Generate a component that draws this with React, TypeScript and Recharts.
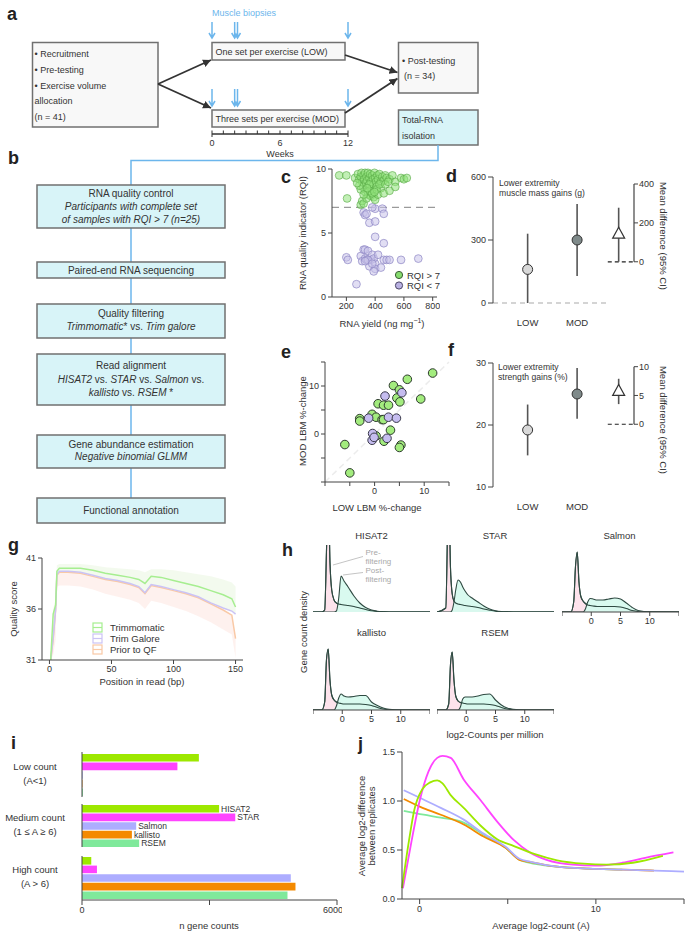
import React from "react";
import {
  Area,
  AreaChart,
  Bar,
  BarChart,
  ComposedChart,
  ErrorBar,
  LabelList,
  Line,
  LineChart,
  ReferenceLine,
  Scatter,
  ScatterChart,
  XAxis,
  YAxis,
} from "recharts";

// ---------- c: RNA yield vs RQI ----------
const rqiHigh: [number, number][] = [
  [150, 9.5], [200, 9.5], [205, 7.7], [260, 9.3], [280, 9.6], [290, 9.2], [300, 9.4], [305, 9.7],
  [310, 9.0], [315, 8.6], [320, 9.5], [325, 9.2], [330, 9.7], [335, 8.9], [340, 9.4], [345, 9.1],
  [350, 9.7], [355, 8.7], [360, 9.3], [365, 9.6], [370, 9.0], [375, 8.4], [380, 9.5], [385, 9.2],
  [390, 8.8], [395, 9.7], [400, 9.3], [405, 9.0], [410, 8.6], [415, 9.5], [420, 9.2], [430, 9.6],
  [440, 9.0], [450, 9.4], [460, 9.1], [470, 9.5], [480, 9.3], [500, 9.2], [520, 9.5], [540, 9.0],
  [580, 9.3], [600, 9.2], [330, 8.2], [350, 8.0], [370, 7.9], [390, 7.8], [400, 7.6], [420, 8.0],
  [440, 8.5], [460, 8.1], [500, 8.3], [540, 8.6], [300, 7.2], [310, 7.5], [320, 7.3], [340, 7.7],
  [360, 8.3], [380, 8.1], [410, 8.4], [430, 8.8], [300, 8.4], [290, 8.7], [470, 8.8], [490, 9.0],
  [360, 8.8], [320, 8.0], [345, 8.5], [395, 8.2], [275, 8.9], [620, 9.3],
];
const rqiLow: [number, number][] = [
  [320, 6.6], [330, 6.4], [340, 6.5], [360, 5.8], [400, 5.9], [400, 6.9], [450, 6.9], [460, 6.5],
  [380, 7.0], [400, 4.7], [460, 4.2], [200, 3.1], [210, 2.9], [300, 3.2], [320, 3.7], [330, 3.7],
  [350, 3.6], [310, 2.8], [330, 3.0], [340, 2.9], [360, 2.4], [370, 2.9], [380, 3.3], [390, 3.0],
  [400, 2.6], [400, 2.2], [390, 2.0], [420, 3.3], [440, 2.3], [460, 2.9], [480, 2.9], [500, 2.9],
  [580, 2.9], [700, 3.0], [270, 1.0], [350, 2.9], [380, 2.6], [330, 2.8],
];

// ---------- d / f: group means with 95% CI ----------
const groupNames = ["LOW", "MOD"];
const massGain = [160, 300];
const massLower = [0, 128];
const massUpper = [330, 472];
const massDiff = [142, 0, 278]; // mean, lower, upper
const strengthGain = [19.2, 25.0];
const strengthLower = [15.1, 21.0];
const strengthUpper = [23.3, 29.2];
const strengthDiff = [5.7, 3.5, 7.9];

// ---------- e: LOW vs MOD LBM %-change ----------
const lbmHigh: [number, number][] = [
  [11.7, 12.7], [6.6, 11.4], [3.8, 10.1], [5.0, 9.2], [9.3, 7.3], [4.5, 7.5], [5.1, 6.7], [0.7, 6.3],
  [1.8, 6.0], [2.8, 6.0], [-3.0, 3.2], [-3.0, 2.7], [-0.5, 4.1], [0.3, 3.5], [1.5, 3.0], [1.8, 3.0],
  [3.2, 0.8], [0.3, -0.4], [1.9, -1.5], [5.3, -2.3], [5.0, -2.8], [-6.0, -2.2], [-5.0, -8.1],
];
const lbmLow: [number, number][] = [
  [2.1, 7.9], [5.5, 8.6], [-1.2, 3.3], [2.8, 3.5], [4.4, 3.3], [-0.4, 0.1], [-0.5, -1.3], [-0.1, -0.7], [2.5, -0.9],
];

// ---------- g: quality score by read position ----------
const readPos = [1, 3, 5, 6, 8, 15, 25, 35, 45, 55, 65, 72, 77, 82, 90, 100, 110, 120, 130, 140, 147, 150];
const qTrimmomatic = [31, 35.5, 36.4, 39.7, 40.0, 40.0, 40.0, 39.8, 39.5, 39.3, 39.1, 38.9, 38.5, 39.2, 39.1, 38.8, 38.5, 38.2, 37.8, 37.4, 37.0, 36.2];
const qTrimGalore = [31, 33.2, 36.0, 39.4, 39.7, 39.7, 39.6, 39.3, 39.0, 38.8, 38.5, 38.2, 37.6, 38.4, 38.2, 37.9, 37.6, 37.2, 36.6, 36.1, 35.8, 35.5];
const qPrior = [31, 33.0, 36.0, 39.3, 39.6, 39.6, 39.5, 39.2, 38.9, 38.7, 38.4, 38.1, 37.5, 38.3, 38.1, 37.8, 37.5, 37.1, 36.5, 35.9, 35.4, 33.1];
const trimBandLo = [31, 33.2, 36.0, 39.4, 39.7, 39.7, 39.6, 39.3, 39.0, 38.8, 38.5, 38.2, 37.6, 38.4, 38.2, 37.9, 37.6, 37.2, 36.6, 36.1, 35.8, 35.5];
const trimBandHi = [31, 36.0, 37.0, 40.3, 40.4, 40.4, 40.4, 40.3, 40.1, 40.0, 39.9, 39.8, 39.6, 39.9, 39.9, 39.8, 39.6, 39.4, 39.2, 38.9, 38.6, 38.2];
const priorBandLo = [31, 31.5, 33.0, 38.2, 38.3, 38.3, 38.2, 37.9, 37.5, 37.2, 36.9, 36.6, 36.0, 36.8, 36.6, 36.2, 35.8, 35.3, 34.7, 34.0, 33.5, 31.2];

// ---------- h: gene count densities ----------
const cpmGrid = [-5, -3.5, -3, -2.7, -2.4, -2.1, -1.8, -1.4, -1, -0.6, -0.2, 0.3, 1, 2, 3, 4, 5, 6, 7, 8, 10, 15];
const hisat2Pre = [0, 0, 2, 60, 130, 50, 22, 12, 9, 8, 7.5, 7, 6.5, 5.5, 4, 2.5, 1.2, 0.5, 0.2, 0, 0, 0];
const hisat2Post = [0, 0, 0, 0, 0, 0, 0, 0, 1, 14, 36, 31, 25, 16, 9, 4.5, 2, 0.8, 0.3, 0, 0, 0];
const starPre = [0, 4, 130, 45, 18, 11, 9, 8, 7.5, 7, 6.5, 6, 5.5, 4.5, 3, 1.8, 0.8, 0.3, 0.1, 0, 0, 0];
const starPost = [0, 0, 0, 0, 2, 10, 22, 32, 30, 25, 21, 17, 14, 10, 6, 3, 1.2, 0.4, 0.1, 0, 0, 0];
const salmonPre = [0, 0, 10, 45, 60, 30, 16, 11, 8.5, 7, 6.5, 6, 5.5, 5.5, 5.5, 5.5, 5, 3.5, 1.5, 0.5, 0, 0];
const salmonPost = [0, 0, 0, 0, 0, 0, 0, 0, 3, 10, 13.5, 13, 12, 12, 13, 14, 13, 9, 4.5, 1.5, 0.1, 0];
const kallistoPre = [0, 0, 8, 50, 61, 30, 15, 10, 8, 7, 6.5, 6, 6, 6, 6, 5.5, 4.5, 2.5, 1, 0.3, 0, 0];
const kallistoPost = [0, 0, 0, 0, 0, 0, 0, 0, 4, 12, 16, 14, 13, 13.5, 14.5, 14.5, 8, 4.5, 2, 0.8, 0, 0];
const rsemPre = [0, 0, 6, 45, 58, 30, 14, 9, 7.5, 7, 6.5, 6, 6, 6, 6, 5.5, 4.5, 2.5, 1, 0.3, 0, 0];
const rsemPost = [0, 0, 0, 0, 0, 0, 0, 0, 3, 11, 13, 13, 13, 14, 15.5, 16, 10, 5, 2, 0.7, 0, 0];

// ---------- i: gene counts per abundance class ----------
const pipelines = ["HISAT2", "STAR", "Salmon", "kallisto", "RSEM"];
const groupTitle = ["Low count", "Medium count", "High count"];
const groupRange = ["(A<1)", "(1 \u2264 A \u2265 6)", "(A > 6)"];
const lowCounts = [2750, 2245, 15, 10, 20];
const mediumCounts = [3226, 3606, 1275, 1174, 1345];
const highCounts = [218, 352, 4913, 5023, 4835];

// ---------- j: mean-difference trend ----------
const jHisat2: [number, number][] = [
  [-1, 0.11], [-0.6, 0.6], [-0.3, 0.91], [0.15, 1.12], [0.6, 1.19], [1.0, 1.21], [1.3, 1.18], [1.76, 1.06],
  [2.5, 0.93], [3.45, 0.75], [4.4, 0.61], [5.35, 0.54], [6.5, 0.46], [7.8, 0.395], [9.3, 0.36], [10.6, 0.35],
  [12.1, 0.37], [13.8, 0.44],
];
const jStar: [number, number][] = [
  [-0.95, 0.11], [-0.5, 0.55], [0, 1.0], [0.5, 1.3], [1.0, 1.44], [1.3, 1.46], [1.76, 1.44], [2.5, 1.22],
  [3.45, 1.01], [4.4, 0.79], [5.35, 0.6], [6.3, 0.47], [7.2, 0.4], [8.7, 0.35], [10, 0.34], [11.5, 0.37],
  [12.8, 0.42], [14.4, 0.475],
];
const jSalmon: [number, number][] = [
  [-0.9, 1.11], [0.04, 1.03], [1.2, 0.93], [2.5, 0.81], [3.6, 0.67], [4.9, 0.53], [5.66, 0.41], [6.3, 0.38],
  [7.8, 0.33], [9.6, 0.31], [11.5, 0.3], [13.3, 0.29], [15, 0.28],
];
const jKallisto: [number, number][] = [
  [-0.9, 1.02], [0.04, 0.94], [1.2, 0.86], [2.5, 0.76], [3.6, 0.64], [4.9, 0.52], [5.66, 0.4], [6.2, 0.38],
  [7.8, 0.33], [9.6, 0.31], [11.5, 0.3], [13.3, 0.29],
];
const jRsem: [number, number][] = [
  [-0.9, 0.9], [0.23, 0.86], [1.2, 0.83], [2.5, 0.78], [3.6, 0.66], [4.9, 0.52], [5.66, 0.4], [6.2, 0.37],
  [7.8, 0.33], [9.6, 0.31], [11.5, 0.3],
];

// ---------- styles ----------
const FONT = '"Liberation Sans", Arial, Helvetica, sans-serif';
const INK = "#333";
const AXIS = "#444";
const BLUE = "#6cb6ec";
const BOX = "#707070";
const CYAN = "#d8f4f8";
const PIPE_COLORS: Record<string, string> = {
  HISAT2: "#9de800",
  STAR: "#ff44ff",
  Salmon: "#adadff",
  kallisto: "#f48a00",
  RSEM: "#7fe99b",
};
const tick9 = { fontSize: 9, fill: INK };

const toXY = (pts: [number, number][]) => pts.map(([x, y]) => ({ x, y }));

const dot = (fill: string, stroke: string, r: number, fillOpacity = 1, strokeOpacity = 1) => (p: any) => (
  <circle cx={p.cx} cy={p.cy} r={r} fill={fill} fillOpacity={fillOpacity} stroke={stroke} strokeOpacity={strokeOpacity} strokeWidth={1} />
);

const triangle = (p: any) => (
  <polygon
    points={`${p.cx},${p.cy - 7} ${p.cx - 6},${p.cy + 4} ${p.cx + 6},${p.cy + 4}`}
    fill="#fff"
    stroke={INK}
    strokeWidth={1.2}
  />
);

function Box({ x, y, w, h, fill }: { x: number; y: number; w: number; h: number; fill: string }) {
  return <rect x={x} y={y} width={w} height={h} fill={fill} stroke={BOX} strokeWidth={1.5} />;
}

function Diagram() {
  const weeks = [0, 1, 2, 3, 4, 5, 6, 7, 8, 9, 10, 11, 12];
  const biopsyWeeks = [0, 2, 2.25, 12];
  const wx = (w: number) => 212 + w * (136 / 12);
  const arrow = (x: number, y0: number, y1: number, k: string) => (
    <path key={k} d={`M${x},${y0} L${x},${y1} M${x - 3},${y1 - 5} L${x},${y1} L${x + 3},${y1 - 5}`} stroke={BLUE} strokeWidth={1.5} fill="none" />
  );
  const t = { fontSize: 9, fill: INK };
  const b = { fontSize: 10, fill: INK, textAnchor: "middle" as const };
  return (
    <svg width={685} height={932} style={{ position: "absolute", left: 0, top: 0 }}>
      <defs>
        <marker id="ah" viewBox="0 0 10 10" refX="10" refY="5" markerWidth="8" markerHeight="8" markerUnits="userSpaceOnUse" orient="auto">
          <path d="M0,0 L10,5 L0,10 z" fill="#333" />
        </marker>
      </defs>
      {/* panel a */}
      <text x={212} y={16} fontSize={9} fill={BLUE}>Muscle biopsies</text>
      {biopsyWeeks.map((w, i) => arrow(wx(w), 22, 38, "t" + i))}
      {biopsyWeeks.map((w, i) => arrow(wx(w), 89, 106, "b" + i))}
      <Box x={32.5} y={42.5} w={125.5} h={84.5} fill="#f8f8f8" />
      <text x={34.5} y={57} {...t}>• Recruitment</text>
      <text x={34.5} y={73} {...t}>• Pre-testing</text>
      <text x={34.5} y={88.5} {...t}>• Exercise volume</text>
      <text x={34.5} y={104} {...t}>allocation</text>
      <text x={34.5} y={119.5} {...t}>(n = 41)</text>
      <Box x={212} y={42.5} w={133} h={17.5} fill="#f8f8f8" />
      <text x={215.5} y={55} {...t}>One set per exercise (LOW)</text>
      <Box x={212} y={110} w={133} h={17} fill="#f8f8f8" />
      <text x={215.5} y={122} {...t}>Three sets per exercise (MOD)</text>
      <Box x={398.5} y={42.5} w={79.5} h={50.5} fill="#f8f8f8" />
      <text x={402} y={64} {...t}>• Post-testing</text>
      <text x={404} y={79} {...t}>(n = 34)</text>
      <Box x={398.5} y={110} w={79.5} h={35} fill={CYAN} />
      <text x={402} y={122.5} {...t}>Total-RNA</text>
      <text x={402} y={138.5} {...t}>isolation</text>
      <line x1={158} y1={84} x2={211} y2={60} stroke="#333" strokeWidth={1.8} markerEnd="url(#ah)" />
      <line x1={158} y1={84} x2={211} y2={108} stroke="#333" strokeWidth={1.8} markerEnd="url(#ah)" />
      <line x1={345} y1={55} x2={397.5} y2={72.5} stroke="#333" strokeWidth={1.8} markerEnd="url(#ah)" />
      <line x1={345} y1={113} x2={397.5} y2={78.5} stroke="#333" strokeWidth={1.8} markerEnd="url(#ah)" />
      <line x1={212} y1={134} x2={348} y2={134} stroke="#333" strokeWidth={1.5} />
      {weeks.map((w) => (
        <line key={w} x1={wx(w)} y1={w === 0 || w === 12 ? 137 : 134} x2={wx(w)} y2={130.5} stroke="#333" strokeWidth={1} />
      ))}
      <text x={wx(0)} y={146} {...t} textAnchor="middle">0</text>
      <text x={wx(6)} y={146} {...t} textAnchor="middle">6</text>
      <text x={wx(12)} y={146} {...t} textAnchor="middle">12</text>
      <text x={wx(6)} y={156.5} {...t} textAnchor="middle">Weeks</text>

      {/* panel b */}
      <polyline points="438,145 438,160.5 131,160.5 131,185" fill="none" stroke={BLUE} strokeWidth={1.5} />
      <line x1={131} y1={228} x2={131} y2={262} stroke={BLUE} strokeWidth={1.5} />
      <line x1={131} y1={278} x2={131} y2={304} stroke={BLUE} strokeWidth={1.5} />
      <line x1={131} y1={338} x2={131} y2={354} stroke={BLUE} strokeWidth={1.5} />
      <line x1={131} y1={405} x2={131} y2={435} stroke={BLUE} strokeWidth={1.5} />
      <line x1={131} y1={468} x2={131} y2={498} stroke={BLUE} strokeWidth={1.5} />
      <Box x={37} y={185} w={188} h={43} fill={CYAN} />
      <text x={131} y={196.5} {...b}>RNA quality control</text>
      <text x={131} y={210} {...b} fontStyle="italic">Participants with complete set</text>
      <text x={131} y={222.5} {...b} fontStyle="italic">of samples with RQI &gt; 7 (n=25)</text>
      <Box x={37} y={262} w={188} h={16} fill={CYAN} />
      <text x={131} y={273.5} {...b}>Paired-end RNA sequencing</text>
      <Box x={37} y={304} w={188} h={34} fill={CYAN} />
      <text x={131} y={316.5} {...b}>Quality filtering</text>
      <text x={131} y={330} {...b}>
        <tspan fontStyle="italic">Trimmomatic</tspan>* vs. <tspan fontStyle="italic">Trim galore</tspan>
      </text>
      <Box x={37} y={354} w={188} h={51} fill={CYAN} />
      <text x={131} y={369} {...b}>Read alignment</text>
      <text x={131} y={382.5} {...b}>
        <tspan fontStyle="italic">HISAT2</tspan> vs. <tspan fontStyle="italic">STAR</tspan> vs. <tspan fontStyle="italic">Salmon</tspan> vs.
      </text>
      <text x={131} y={395.5} {...b}>
        <tspan fontStyle="italic">kallisto</tspan> vs. <tspan fontStyle="italic">RSEM</tspan> *
      </text>
      <Box x={37} y={435} w={188} h={33} fill={CYAN} />
      <text x={131} y={447.5} {...b}>Gene abundance estimation</text>
      <text x={131} y={460} {...b} fontStyle="italic">Negative binomial GLMM</text>
      <Box x={37} y={498} w={188} h={25} fill={CYAN} />
      <text x={131} y={513.5} {...b}>Functional annotation</text>
    </svg>
  );
}

function Overlay() {
  const L = { fontSize: 18, fontWeight: 700, fill: "#222" };
  const a = { fontSize: 9.5, fill: INK };
  return (
    <svg width={685} height={932} style={{ position: "absolute", left: 0, top: 0, pointerEvents: "none" }}>
      <text x={7} y={20} {...L}>a</text>
      <text x={8} y={164} {...L}>b</text>
      <text x={281} y={183} {...L}>c</text>
      <text x={446} y={182} {...L}>d</text>
      <text x={281} y={358} {...L}>e</text>
      <text x={448} y={356} {...L}>f</text>
      <text x={8} y={551} {...L}>g</text>
      <text x={282} y={556} {...L}>h</text>
      <text x={11} y={749} {...L}>i</text>
      <text x={358} y={750} {...L}>j</text>

      {/* c */}
      <text x={306} y={233} {...a} textAnchor="middle" transform="rotate(-90 306 233)">RNA quality indicator (RQI)</text>
      <text x={382} y={327} {...a} textAnchor="middle">
        RNA yield  (ng mg<tspan dy={-4} fontSize={7}>−1</tspan><tspan dy={4}>)</tspan>
      </text>
      <circle cx={399} cy={275} r={3.6} fill="#86dc6e" stroke="#3a5a34" strokeWidth={1} />
      <circle cx={399} cy={285.5} r={3.6} fill="#b9b1e2" stroke="#4a4466" strokeWidth={1} />
      <text x={407} y={278.5} {...a}>RQI &gt; 7</text>
      <text x={407} y={289} {...a}>RQI &lt; 7</text>

      {/* d */}
      <text x={499} y={186} fontSize={8.6} fill={INK}>Lower extremity</text>
      <text x={499} y={196} fontSize={8.6} fill={INK}>muscle mass gains (g)</text>
      <text x={660} y={236} {...a} textAnchor="middle" transform="rotate(90 660 236)">Mean difference (95% CI)</text>

      {/* e */}
      <text x={306} y={421} {...a} textAnchor="middle" transform="rotate(-90 306 421)">MOD LBM %-change</text>
      <text x={377} y={511} {...a} textAnchor="middle">LOW LBM %-change</text>

      {/* f */}
      <text x={498} y={370} fontSize={8.6} fill={INK}>Lower extremity</text>
      <text x={498} y={380} fontSize={8.6} fill={INK}>strength gains (%)</text>
      <text x={660} y={420} {...a} textAnchor="middle" transform="rotate(90 660 420)">Mean difference (95% CI)</text>

      {/* g */}
      <text x={17} y={609} {...a} textAnchor="middle" transform="rotate(-90 17 609)">Quality score</text>
      <text x={142} y={685} {...a} textAnchor="middle">Position in read (bp)</text>

      {/* h */}
      <text x={307} y={632} {...a} textAnchor="middle" transform="rotate(-90 307 632)">Gene count density</text>
      <text x={495} y={738} {...a} textAnchor="middle">log2-Counts per million</text>
      <text x={371.5} y={539} {...a} textAnchor="middle">HISAT2</text>
      <text x={495} y={539} {...a} textAnchor="middle">STAR</text>
      <text x={619.5} y={539} {...a} textAnchor="middle">Salmon</text>
      <text x={371.5} y={636} {...a} textAnchor="middle">kallisto</text>
      <text x={495} y={636} {...a} textAnchor="middle">RSEM</text>
      <g fill="#a9a9a9" fontSize={8}>
        <text x={365.5} y={554.5}>Pre-</text>
        <text x={365.5} y={563.5}>filtering</text>
        <text x={365.5} y={572.5}>Post-</text>
        <text x={365.5} y={581.5}>filtering</text>
      </g>
      <line x1={363} y1={556.5} x2={333} y2={565} stroke="#b5b5b5" strokeWidth={0.8} />
      <line x1={363} y1={572.5} x2={343} y2={575} stroke="#b5b5b5" strokeWidth={0.8} />

      {/* i */}
      <text x={209} y={929} {...a} textAnchor="middle">n gene counts</text>

      {/* j */}
      <text x={365} y={826} {...a} textAnchor="middle" transform="rotate(-90 365 826)">Average log2-difference</text>
      <text x={375} y={826} {...a} textAnchor="middle" transform="rotate(-90 375 826)">between replicates</text>
      <text x={541} y={929} {...a} textAnchor="middle">Average log2-count (A)</text>
    </svg>
  );
}

function PanelC() {
  return (
    <div style={{ position: "absolute", left: 292, top: 160 }}>
      <ScatterChart width={148} height={175} margin={{ top: 9, right: 3, bottom: 0, left: 0 }}>
        <XAxis type="number" dataKey="x" domain={[100, 830]} ticks={[200, 400, 600, 800]} height={38} tick={tick9} tickSize={4} stroke={AXIS} />
        <YAxis type="number" dataKey="y" domain={[0, 10]} ticks={[0, 5, 10]} width={40} tick={tick9} tickSize={4} stroke={AXIS} />
        <ReferenceLine y={7} stroke="#9a9a9a" strokeDasharray="7 5" strokeWidth={1.2} />
        <Scatter data={toXY(rqiLow)} shape={dot("#c9c2ea", "#8f87c4", 3.9, 0.55, 0.7)} isAnimationActive={false} />
        <Scatter data={toXY(rqiHigh)} shape={dot("#8fe27a", "#56a844", 3.9, 0.55, 0.6)} isAnimationActive={false} />
      </ScatterChart>
    </div>
  );
}

function GroupPanel({
  top, plotH, domain, ticks, means, lower, upper, diff, diffDomain, diffTicks, zeroLine,
}: {
  top: number; plotH: number; domain: [number, number]; ticks: number[]; means: number[]; lower: number[]; upper: number[];
  diff: number[]; diffDomain: [number, number]; diffTicks: number[]; zeroLine: boolean;
}) {
  const rows = groupNames.map((_, i) => ({ x: i + 1, y: means[i], err: [means[i] - lower[i], upper[i] - means[i]] }));
  const diffRow = [{ x: 2.84, y: diff[0], err: [diff[0] - diff[1], diff[2] - diff[0]] }];
  const fills = ["#d8d8d8", "#7f8a8a"];
  return (
    <div style={{ position: "absolute", left: 453, top }}>
      <ComposedChart width={221} height={17 + plotH + 25} margin={{ top: 17, right: 0, bottom: 0, left: 0 }}>
        <XAxis type="number" dataKey="x" domain={[0.3, 3.15]} ticks={[1, 2]} tickFormatter={(v) => groupNames[v - 1]} axisLine={false} tickLine={false} tick={{ fontSize: 9.5, fill: INK }} tickMargin={10} height={25} />
        <YAxis yAxisId="main" type="number" dataKey="y" domain={domain} ticks={ticks} width={40} tick={tick9} tickSize={5} stroke={AXIS} />
        <YAxis yAxisId="diff" orientation="right" type="number" dataKey="y" domain={diffDomain} ticks={diffTicks} width={40} axisLine={false} tick={tick9} tickSize={4} tickMargin={1} stroke={AXIS} />
        {zeroLine && (
          <ReferenceLine yAxisId="main" segment={[{ x: 0.3, y: 0 }, { x: 2.62, y: 0 }]} stroke="#aaa" strokeDasharray="5 4" strokeWidth={1.2} />
        )}
        <ReferenceLine yAxisId="diff" segment={[{ x: 3.15, y: 0 }, { x: 3.15, y: diffTicks[2] }]} stroke={AXIS} strokeWidth={1.2} />
        <ReferenceLine yAxisId="diff" segment={[{ x: 2.62, y: 0 }, { x: 3.15, y: 0 }]} stroke="#222" strokeDasharray="4 3" strokeWidth={1.2} />
        {rows.map((r, i) => (
          <Scatter key={i} yAxisId="main" data={[r]} shape={dot(fills[i], INK, 5, 1)} isAnimationActive={false}>
            <ErrorBar dataKey="err" direction="y" width={0} stroke="#555" strokeWidth={1.6} />
          </Scatter>
        ))}
        <Scatter yAxisId="diff" data={diffRow} shape={triangle} isAnimationActive={false}>
          <ErrorBar dataKey="err" direction="y" width={0} stroke="#555" strokeWidth={1.6} />
        </Scatter>
      </ComposedChart>
    </div>
  );
}

function PanelE() {
  const fmt = (v: number) => (v === 0 || v === 10 ? String(v) : "");
  return (
    <div style={{ position: "absolute", left: 285, top: 352 }}>
      <ScatterChart width={166} height={158} margin={{ top: 10, right: 2, bottom: 0, left: 0 }}>
        <XAxis type="number" dataKey="x" domain={[-10, 15]} ticks={[-10, -5, 0, 5, 10, 15]} tickFormatter={fmt} height={28} tick={tick9} tickSize={4} stroke={AXIS} />
        <YAxis type="number" dataKey="y" domain={[-10, 15]} ticks={[-10, -5, 0, 5, 10, 15]} tickFormatter={fmt} width={40} tick={tick9} tickSize={4} stroke={AXIS} />
        <ReferenceLine segment={[{ x: -10, y: -10 }, { x: 15, y: 15 }]} stroke="#ececec" strokeDasharray="6 4" strokeWidth={1.5} />
        <Scatter data={toXY(lbmHigh)} shape={dot("#a3ec7e", "#2e3b2e", 4.3)} isAnimationActive={false} />
        <Scatter data={toXY(lbmLow)} shape={dot("#c5bcef", "#3a3a4a", 4.3)} isAnimationActive={false} />
      </ScatterChart>
    </div>
  );
}

function PanelG() {
  const data = readPos.map((x, i) => ({
    x,
    trim: qTrimmomatic[i],
    galore: qTrimGalore[i],
    prior: qPrior[i],
    trimBand: [trimBandLo[i], trimBandHi[i]],
    priorBand: [priorBandLo[i], qPrior[i]],
  }));
  const legend = [
    { name: "Trimmomatic", color: "#a6ee90" },
    { name: "Trim Galore", color: "#cbc3f5" },
    { name: "Prior to QF", color: "#f9c9a6" },
  ];
  return (
    <div style={{ position: "absolute", left: 0, top: 548 }}>
      <ComposedChart data={data} width={248} height={134} margin={{ top: 10, right: 5, bottom: 0, left: 0 }}>
        <XAxis type="number" dataKey="x" domain={[-6, 156]} ticks={[0, 50, 100, 150]} height={22} tick={tick9} tickSize={4} stroke={AXIS} />
        <YAxis type="number" domain={[31, 41]} ticks={[31, 36, 41]} width={42} tick={tick9} tickSize={4} stroke={AXIS} />
        <Area dataKey="priorBand" fill="#fde6e0" fillOpacity={0.55} stroke="none" isAnimationActive={false} />
        <Area dataKey="trimBand" fill="#eaf6e0" fillOpacity={0.55} stroke="none" isAnimationActive={false} />
        <Line dataKey="prior" stroke="#f9c9a6" strokeWidth={1.5} dot={false} isAnimationActive={false} />
        <Line dataKey="galore" stroke="#cbc3f5" strokeWidth={1.5} dot={false} isAnimationActive={false} />
        <Line dataKey="trim" stroke="#a6ee90" strokeWidth={1.5} dot={false} isAnimationActive={false} />
      </ComposedChart>
      <svg width={100} height={40} style={{ position: "absolute", left: 90, top: 73 }}>
        {legend.map((l, i) => (
          <g key={l.name}>
            <rect x={3} y={2 + i * 11} width={9} height={9} fill="#fff" stroke={l.color} strokeWidth={1.2} />
            <line x1={3} x2={12} y1={6.5 + i * 11} y2={6.5 + i * 11} stroke={l.color} strokeWidth={1.2} />
            <text x={20} y={10 + i * 11} fontSize={9.5} fill={INK}>{l.name}</text>
          </g>
        ))}
      </svg>
    </div>
  );
}

function Density({ left, top, pre, post, axis }: { left: number; top: number; pre: number[]; post: number[]; axis: boolean }) {
  const data = cpmGrid.map((x, i) => ({ x, pre: pre[i], post: post[i] }));
  return (
    <div style={{ position: "absolute", left, top }}>
      <AreaChart data={data} width={117} height={67 + (axis ? 18 : 0)} margin={{ top: 0, right: 0, bottom: 0, left: 0 }}>
        <XAxis type="number" dataKey="x" domain={[-5, 15]} ticks={[-5, 0, 5, 10, 15]} tickFormatter={(v) => (v === 0 || v === 5 || v === 10 ? String(v) : "")} hide={!axis} height={18} tick={tick9} tickSize={4} stroke={AXIS} />
        <YAxis type="number" domain={[0, 67]} allowDataOverflow hide />
        <Area type="monotone" dataKey="pre" fill="#fde3ec" fillOpacity={1} stroke="#2f4a42" strokeWidth={1.1} isAnimationActive={false} />
        <Area type="monotone" dataKey="post" fill="#d6faee" fillOpacity={0.92} stroke="#2f4a42" strokeWidth={1.1} isAnimationActive={false} />
        <Area type="monotone" dataKey="pre" fill="none" stroke="#2f4a42" strokeWidth={1.1} isAnimationActive={false} />
      </AreaChart>
    </div>
  );
}

function CountGroup({ top, plotH, values, index, axis }: { top: number; plotH: number; values: number[]; index: number; axis: boolean }) {
  const row: Record<string, any> = { group: groupTitle[index] };
  pipelines.forEach((p, i) => (row[p] = values[i]));
  const groupTick = (p: any) => (
    <g>
      <text x={35} y={p.y - 5} textAnchor="middle" fontSize={9.5} fill={INK}>{groupTitle[index]}</text>
      <text x={35} y={p.y + 9} textAnchor="middle" fontSize={9.5} fill={INK}>{groupRange[index]}</text>
    </g>
  );
  return (
    <div style={{ position: "absolute", left: 0, top }}>
      <BarChart layout="vertical" data={[row]} width={342} height={plotH + (axis ? 22 : 0)} margin={{ top: 0, right: 5, bottom: 0, left: 7 }} barCategoryGap={0} barGap={1}>
        <XAxis type="number" domain={[0, 6000]} ticks={[0, 3000, 6000]} tickFormatter={(v) => (v === 3000 ? "" : String(v))} hide={!axis} height={22} tick={tick9} tickSize={5} stroke={AXIS} />
        <YAxis type="category" dataKey="group" width={75} tick={groupTick} tickLine={false} stroke={AXIS} />
        {pipelines.map((p) => (
          <Bar key={p} dataKey={p} fill={PIPE_COLORS[p]} barSize={7.6} isAnimationActive={false}>
            {index === 1 && <LabelList dataKey={() => p} position="right" offset={2} style={{ fontSize: 8.5, fill: INK }} />}
          </Bar>
        ))}
      </BarChart>
    </div>
  );
}

function PanelJ() {
  const series: { name: string; pts: [number, number][] }[] = [
    { name: "RSEM", pts: jRsem },
    { name: "kallisto", pts: jKallisto },
    { name: "Salmon", pts: jSalmon },
    { name: "STAR", pts: jStar },
    { name: "HISAT2", pts: jHisat2 },
  ];
  return (
    <div style={{ position: "absolute", left: 356, top: 742 }}>
      <LineChart width={329} height={179} margin={{ top: 10, right: 1, bottom: 0, left: 0 }}>
        <XAxis type="number" dataKey="x" domain={[-1, 15]} ticks={[0, 5, 10, 15]} tickFormatter={(v) => (v === 0 || v === 10 ? String(v) : "")} height={22} tick={tick9} tickSize={5} stroke={AXIS} allowDuplicatedCategory={false} />
        <YAxis type="number" domain={[0, 1.5]} ticks={[0, 0.5, 1, 1.5]} tickFormatter={(v) => v.toFixed(1)} width={46} tick={tick9} tickSize={5} stroke={AXIS} />
        {series.map((s) => (
          <Line key={s.name} data={toXY(s.pts)} dataKey="y" type="monotone" stroke={PIPE_COLORS[s.name]} strokeWidth={1.8} dot={false} isAnimationActive={false} />
        ))}
      </LineChart>
    </div>
  );
}

export default function App() {
  return (
    <div style={{ position: "absolute", left: 0, top: 0, width: 685, height: 932, overflow: "hidden", background: "#fff", fontFamily: FONT }}>
      <Diagram />
      <PanelC />
      <GroupPanel top={160} plotH={126} domain={[0, 600]} ticks={[0, 300, 600]} means={massGain} lower={massLower} upper={massUpper}
        diff={massDiff} diffDomain={[-212, 436]} diffTicks={[0, 200, 400]} zeroLine />
      <PanelE />
      <GroupPanel top={346} plotH={124} domain={[10, 30]} ticks={[10, 20, 30]} means={strengthGain} lower={strengthLower} upper={strengthUpper}
        diff={strengthDiff} diffDomain={[-10.9, 10.64]} diffTicks={[0, 5, 10]} zeroLine={false} />
      <PanelG />
      <Density left={313} top={545} pre={hisat2Pre} post={hisat2Post} axis={false} />
      <Density left={437} top={545} pre={starPre} post={starPost} axis={false} />
      <Density left={562} top={545} pre={salmonPre} post={salmonPost} axis />
      <Density left={313} top={643} pre={kallistoPre} post={kallistoPost} axis />
      <Density left={437} top={643} pre={rsemPre} post={rsemPost} axis />
      <CountGroup top={752} plotH={45} values={lowCounts} index={0} axis={false} />
      <CountGroup top={804} plotH={43} values={mediumCounts} index={1} axis={false} />
      <CountGroup top={856} plotH={44} values={highCounts} index={2} axis />
      <PanelJ />
      <Overlay />
    </div>
  );
}
